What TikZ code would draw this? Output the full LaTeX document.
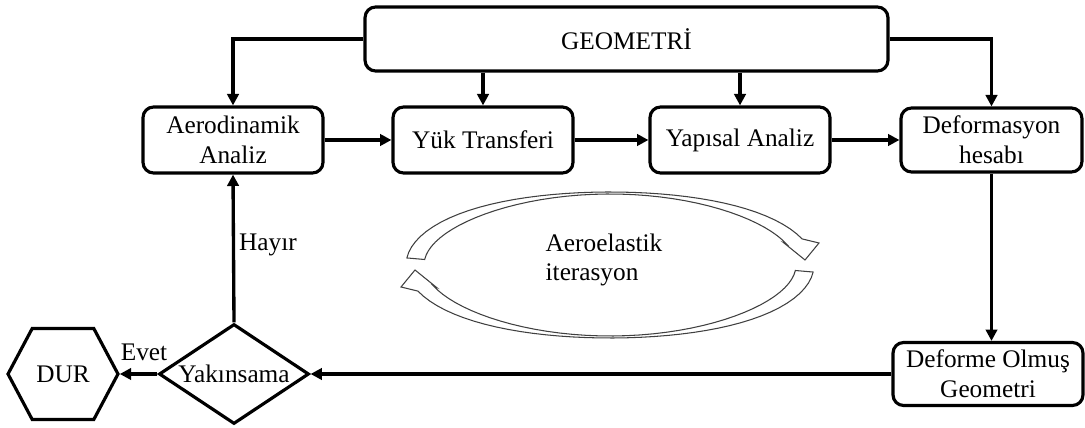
\documentclass[tikz,border=0pt]{standalone}
\usepackage{fontspec}
\setmainfont{Liberation Serif}
\usetikzlibrary{shapes.geometric,shapes.symbols,arrows.meta,calc}
\newcommand{\IterArrowPath}{%
  plot[samples at={175,171,...,19}] ({610+(195+hw(\x))*cos(\x)},{265-(72+hw(\x))*sin(\x)})
  -- (819,243) -- (805,260) -- (784,243)
  -- plot[samples at={19,23,...,175}] ({610+(195-hw(\x))*cos(\x)},{265-(72-hw(\x))*sin(\x)})
  -- cycle}
\begin{document}
\begin{tikzpicture}[x=0.02cm,y=-0.02cm,
  every node/.style={font=\fontsize{14.4}{17}\selectfont},
  box/.style={draw,line width=1.8pt,rounded corners=6pt,align=center,inner sep=0pt},
  conn/.style={line width=1.9pt,-{Triangle[length=6.5pt,width=6.5pt]}},
  iterarrow/.style={draw=black!75,line width=0.6pt,fill=white,line join=miter},
  declare function={hw(\t)=1+8*cos(\t)*cos(\t);}
]
\useasboundingbox (0,0) rectangle (1085,428);

% boxes
\node[box,minimum width=10.46cm,minimum height=1.28cm] (geo) at (626.5,39) {GEOMETRİ};
\node[box,minimum width=3.6cm,minimum height=1.32cm] (aero) at (233,140) {Aerodinamik\\Analiz};
\node[box,minimum width=3.6cm,minimum height=1.32cm] (yuk) at (483,140) {Yük Transferi};
\node[box,minimum width=3.6cm,minimum height=1.32cm] (yap) at (740,140) {Yapısal Analiz};
\node[box,minimum width=3.62cm,minimum height=1.28cm] (def) at (991.5,140) {Deformasyon\\hesabı};
\node[box,minimum width=3.8cm,minimum height=1.26cm] (defg) at (988,374) {Deforme Olmuş\\Geometri};
\node[draw,diamond,line width=1.8pt,minimum width=3cm,minimum height=2cm,inner xsep=-0.6cm,inner ysep=-0.2cm] (yak) at (234,374) {Yakınsama};
\node[draw,signal,signal to=west and east,signal pointer angle=124,line width=1.8pt,minimum width=2.2cm,minimum height=1.82cm,inner sep=0pt] (dur) at (63,374) {DUR};

% labels
\node (evet) at (144,352) {Evet};
\node (hayir) at (268,245) {Hayır};
\node[align=left,inner sep=0pt] (iter) at (604,260) {Aeroelastik\\iterasyon};

% connectors
\draw[conn] (geo.west) -| (aero.north);
\draw[conn] (geo.east) -| (def.north);
\draw[conn] (yuk.north |- geo.south) -- (yuk.north);
\draw[conn] (yap.north |- geo.south) -- (yap.north);
\draw[conn] (aero.east) -- (yuk.west);
\draw[conn] (yuk.east) -- (yap.west);
\draw[conn] (yap.east) -- (def.west);
\draw[conn] (def.south) -- (def.south |- defg.north);
\draw[conn] (defg.west) -- (yak.east);
\draw[conn] (yak.west) -- (dur.east);
\draw[conn] (yak.north) -- (aero.south);

% iteration arrows
\path[iterarrow] \IterArrowPath;
\begin{scope}[rotate around={180:(610,265)}]
\path[iterarrow] \IterArrowPath;
\end{scope}
\end{tikzpicture}
\end{document}
